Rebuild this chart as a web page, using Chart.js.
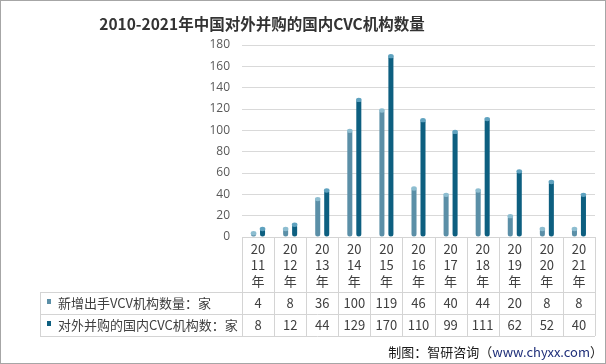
<!DOCTYPE html>
<html><head><meta charset="utf-8">
<script src="https://cdn.jsdelivr.net/npm/chart.js@4/dist/chart.umd.min.js"></script>
<style>html,body{margin:0;padding:0;background:#fff}#wrap{width:606px;height:364px;position:relative}</style>
</head><body><div id="wrap"><canvas id="c" width="606" height="364"></canvas></div>
<script>
const chartTitle = '2010-2021年中国对外并购的国内CVC机构数量';
const categories = ['2011年','2012年','2013年','2014年','2015年','2016年','2017年','2018年','2019年','2020年','2021年'];
const seriesNames = ['新增出手VCV机构数量：家', '对外并购的国内CVC机构数：家'];
const newVCV = [4, 8, 36, 100, 119, 46, 40, 44, 20, 8, 8];
const cvcCount = [8, 12, 44, 129, 170, 110, 99, 111, 62, 52, 40];
const yTickValues = [0, 20, 40, 60, 80, 100, 120, 140, 160, 180];
const sourceParts = ['制图：智研咨询（', 'www.chyxx.com', '）'];

const colors = ['#5b8fa7', '#0d5f80'];
const capColors = ['#8dbdd0', '#5fa2bf'];
const FONT = '"Noto Sans CJK SC", "Open Sans", sans-serif';

const decorPlugin = {
  id: 'decor',
  afterDatasetsDraw(chart) {
    const ctx = chart.ctx;
    chart.data.datasets.forEach((ds, di) => {
      const meta = chart.getDatasetMeta(di);
      meta.data.forEach(bar => {
        ctx.save();
        ctx.fillStyle = capColors[di];
        ctx.beginPath();
        ctx.ellipse(bar.x, bar.y + 0.5, bar.width / 2 + 0.3, 2.2, 0, 0, Math.PI * 2);
        ctx.fill();
        ctx.restore();
      });
    });
  },
  afterDraw(chart) {
    const ctx = chart.ctx;
    const area = chart.chartArea;
    const n = categories.length;
    const colW = (area.right - area.left) / n;
    const top = Math.round(area.bottom);
    const hdrB = top + 55, r1B = hdrB + 22, r2B = r1B + 22, legL = 40;
    const L = Math.round(area.left), R = Math.round(area.right);
    ctx.save();
    // title
    ctx.fillStyle = '#333333';
    ctx.font = 'bold 15.5px ' + FONT;
    ctx.textAlign = 'center';
    ctx.textBaseline = 'middle';
    ctx.fillText(chartTitle, 262, 24);
    // table lines
    ctx.strokeStyle = '#d4d4d4';
    ctx.lineWidth = 1;
    ctx.beginPath();
    ctx.moveTo(L, top + 0.5); ctx.lineTo(R, top + 0.5);
    [hdrB, r1B, r2B].forEach(y => { ctx.moveTo(legL, y + 0.5); ctx.lineTo(R, y + 0.5); });
    for (let i = 0; i <= n; i++) {
      const x = Math.round(area.left + i * colW) + 0.5;
      ctx.moveTo(x, top); ctx.lineTo(x, r2B);
    }
    ctx.moveTo(legL + 0.5, hdrB); ctx.lineTo(legL + 0.5, r2B);
    ctx.stroke();
    // header labels
    ctx.fillStyle = '#404040';
    ctx.font = '13px ' + FONT;
    ctx.textAlign = 'center';
    ctx.textBaseline = 'middle';
    categories.forEach((c, i) => {
      const cx = area.left + (i + 0.5) * colW;
      ctx.fillText(c.slice(0, 2), cx, top + 12);
      ctx.fillText(c.slice(2, 4), cx, top + 28);
      ctx.fillText(c.slice(4), cx, top + 44);
      ctx.fillText(String(newVCV[i]), cx, hdrB + 11);
      ctx.fillText(String(cvcCount[i]), cx, r1B + 11);
    });
    // legend rows
    ctx.textAlign = 'left';
    [hdrB, r1B].forEach((y, k) => {
      ctx.fillStyle = colors[k];
      ctx.fillRect(47, y + 7, 4, 5);
      ctx.fillStyle = '#404040';
      ctx.fillText(seriesNames[k], 58, y + 11);
    });
    // source
    ctx.font = '13px ' + FONT;
    ctx.textBaseline = 'middle';
    const w0 = ctx.measureText(sourceParts[0]).width;
    const w1 = ctx.measureText(sourceParts[1]).width;
    const w2 = ctx.measureText(sourceParts[2]).width;
    let x0 = 603 - (w0 + w1 + w2);
    ctx.fillStyle = '#1a1a1a';
    ctx.fillText(sourceParts[0], x0, 352);
    ctx.fillStyle = '#1f2f7a';
    ctx.fillText(sourceParts[1], x0 + w0, 352);
    ctx.fillStyle = '#1a1a1a';
    ctx.fillText(sourceParts[2], x0 + w0 + w1, 352);
    // border
    ctx.strokeStyle = '#a6a6a6';
    ctx.strokeRect(0.5, 0.5, 605, 363);
    ctx.restore();
  }
};

new Chart(document.getElementById('c'), {
  type: 'bar',
  data: {
    labels: categories,
    datasets: [
      { label: seriesNames[0], data: newVCV, backgroundColor: colors[0],
        barPercentage: 0.56, categoryPercentage: 0.56,
        borderRadius: 2.5, borderSkipped: false },
      { label: seriesNames[1], data: cvcCount, backgroundColor: colors[1],
        barPercentage: 0.56, categoryPercentage: 0.56,
        borderRadius: 2.5, borderSkipped: false }
    ]
  },
  options: {
    responsive: false,
    animation: false,
    layout: { padding: { top: 45, right: 11, left: 0, bottom: 0 } },
    plugins: { legend: { display: false }, title: { display: false }, tooltip: { enabled: false } },
    scales: {
      x: {
        grid: { display: false },
        border: { display: false },
        ticks: { display: false },
        afterFit(scale) { scale.height = 127; }
      },
      y: {
        min: 0, max: 180,
        afterBuildTicks(scale) { scale.ticks = yTickValues.map(v => ({ value: v })); },
        afterFit(scale) { scale.width = 242; },
        grid: { color: '#d9d9d9', drawTicks: false },
        border: { display: false },
        ticks: { color: '#595959', font: { size: 12, family: '"Open Sans", sans-serif' }, padding: 12 }
      }
    }
  },
  plugins: [decorPlugin]
});
</script>
</body></html>
